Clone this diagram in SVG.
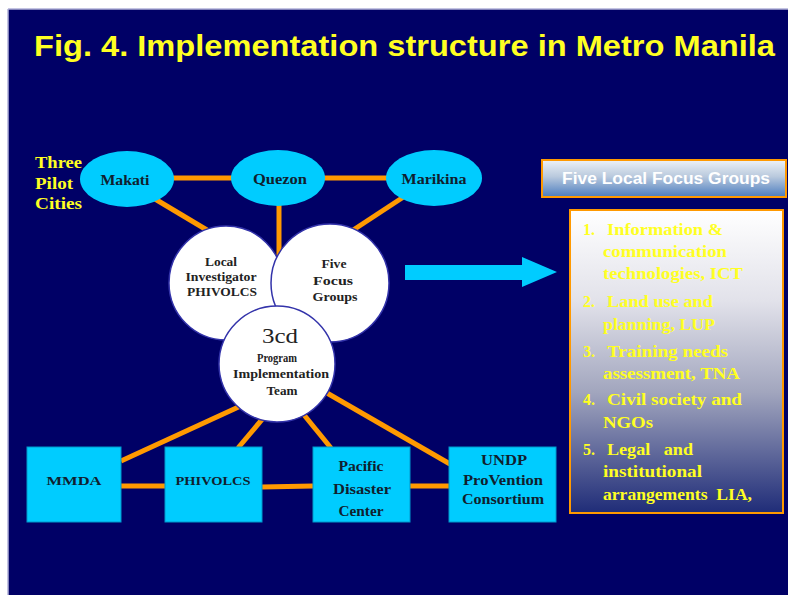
<svg xmlns="http://www.w3.org/2000/svg" width="788" height="595" viewBox="0 0 788 595">
<defs>
<linearGradient id="hdr" x1="0" y1="0" x2="0" y2="1">
<stop offset="0" stop-color="#EEF2F7"/>
<stop offset="0.45" stop-color="#B9C9DD"/>
<stop offset="1" stop-color="#4A7CBF"/>
</linearGradient>
<linearGradient id="lst" x1="0" y1="0" x2="0" y2="1">
<stop offset="0" stop-color="#FFFFFF"/>
<stop offset="0.3" stop-color="#E2E2EA"/>
<stop offset="0.6" stop-color="#A2A6BE"/>
<stop offset="1" stop-color="#1F2C78"/>
</linearGradient>
</defs>
<style>
.conn { stroke: #FF9900; stroke-width: 5; fill: none; }
.city { fill: #00CCFF; }
.box { fill: #00CCFF; stroke: #0099CC; stroke-width: 1; }
.circ { fill: #FFFFFF; stroke: #3333AA; stroke-width: 1.5; }
.dark { font-family: "Liberation Serif", serif; font-weight: bold; fill: #10202E; text-anchor: middle; }
.ctext { font-family: "Liberation Serif", serif; font-weight: bold; fill: #222222; text-anchor: middle; font-size: 12px; }
.yel { font-family: "Liberation Serif", serif; font-weight: bold; fill: #FFFF22; font-size: 16px; }
</style>
<rect x="0" y="0" width="788" height="595" fill="#FFFFFF"/>
<rect x="8" y="9" width="780" height="586" fill="#000066"/>
<line x1="8" y1="9" x2="788" y2="9" stroke="#B0B0D8" stroke-width="1.5"/>
<line x1="8" y1="9" x2="8" y2="595" stroke="#B0B0D8" stroke-width="1.5"/>

<text x="34" y="56" font-family="Liberation Sans, sans-serif" font-weight="bold" font-size="30" fill="#FFFF22" textLength="741" lengthAdjust="spacingAndGlyphs">Fig. 4. Implementation structure in Metro Manila</text>

<g id="pilot-label" class="yel" font-size="17">
<text x="35" y="168" font-size="17" textLength="47" lengthAdjust="spacingAndGlyphs">Three</text>
<text x="35" y="189" font-size="17" textLength="38" lengthAdjust="spacingAndGlyphs">Pilot</text>
<text x="35" y="209" font-size="17" textLength="47" lengthAdjust="spacingAndGlyphs">Cities</text>
</g>

<g id="connectors">
<line class="conn" x1="127" y1="178" x2="278" y2="178"/>
<line class="conn" x1="278" y1="178" x2="434" y2="178"/>
<line class="conn" x1="155" y1="199" x2="232" y2="245"/>
<line class="conn" x1="279" y1="200" x2="279" y2="262"/>
<line class="conn" x1="405" y1="196" x2="338" y2="240"/>
<line class="conn" x1="121" y1="461" x2="245" y2="404"/>
<line class="conn" x1="238" y1="448" x2="270" y2="410"/>
<line class="conn" x1="331" y1="448" x2="300" y2="410"/>
<line class="conn" x1="450" y1="464" x2="320" y2="389"/>
<line class="conn" x1="121" y1="486" x2="165" y2="486"/>
<line class="conn" x1="262" y1="487" x2="313" y2="486"/>
<line class="conn" x1="410" y1="486" x2="449" y2="486"/>
</g>

<g id="makati">
<ellipse class="city" cx="127" cy="179" rx="47" ry="28"/>
<text class="dark" x="125" y="185" font-size="14" textLength="49" lengthAdjust="spacingAndGlyphs">Makati</text>
</g>
<g id="quezon">
<ellipse class="city" cx="278" cy="178" rx="47" ry="28"/>
<text class="dark" x="280" y="184" font-size="14" textLength="54" lengthAdjust="spacingAndGlyphs">Quezon</text>
</g>
<g id="marikina">
<ellipse class="city" cx="434" cy="178" rx="48" ry="28"/>
<text class="dark" x="434" y="184" font-size="14" textLength="65" lengthAdjust="spacingAndGlyphs">Marikina</text>
</g>

<g id="local-investigator">
<circle class="circ" cx="226" cy="283" r="57"/>
<text class="ctext" x="221" y="266" textLength="32" lengthAdjust="spacingAndGlyphs">Local</text>
<text class="ctext" x="221" y="281" textLength="71" lengthAdjust="spacingAndGlyphs">Investigator</text>
<text class="ctext" x="222" y="296" textLength="70" lengthAdjust="spacingAndGlyphs">PHIVOLCS</text>
</g>
<g id="five-focus-groups">
<circle class="circ" cx="330" cy="283" r="59"/>
<text class="ctext" x="334" y="268" textLength="25" lengthAdjust="spacingAndGlyphs">Five</text>
<text class="ctext" x="333" y="285" textLength="40" lengthAdjust="spacingAndGlyphs">Focus</text>
<text class="ctext" x="335" y="301" textLength="45" lengthAdjust="spacingAndGlyphs">Groups</text>
</g>
<g id="pit-3cd">
<circle class="circ" cx="277" cy="364" r="58"/>
<text x="280" y="343" font-family="Liberation Serif, serif" font-size="22" fill="#222222" text-anchor="middle" textLength="36" lengthAdjust="spacingAndGlyphs">3cd</text>
<text class="ctext" x="277" y="362" textLength="40" lengthAdjust="spacingAndGlyphs">Program</text>
<text class="ctext" x="281" y="378" textLength="96" lengthAdjust="spacingAndGlyphs">Implementation</text>
<text class="ctext" x="282" y="395" textLength="31" lengthAdjust="spacingAndGlyphs">Team</text>
</g>

<g id="mmda">
<rect class="box" x="27" y="447" width="94" height="75"/>
<text class="dark" x="74" y="485" font-size="13" textLength="55" lengthAdjust="spacingAndGlyphs">MMDA</text>
</g>
<g id="phivolcs">
<rect class="box" x="165" y="447" width="97" height="75"/>
<text class="dark" x="213" y="485" font-size="13" textLength="75" lengthAdjust="spacingAndGlyphs">PHIVOLCS</text>
</g>
<g id="pdc">
<rect class="box" x="313" y="447" width="97" height="75"/>
<text class="dark" x="361" y="471" font-size="14" textLength="45" lengthAdjust="spacingAndGlyphs">Pacific</text>
<text class="dark" x="362" y="494" font-size="14" textLength="58" lengthAdjust="spacingAndGlyphs">Disaster</text>
<text class="dark" x="361" y="516" font-size="14" textLength="45" lengthAdjust="spacingAndGlyphs">Center</text>
</g>
<g id="undp">
<rect class="box" x="449" y="447" width="107" height="75"/>
<text class="dark" x="504" y="465" font-size="14" textLength="46" lengthAdjust="spacingAndGlyphs">UNDP</text>
<text class="dark" x="503" y="485" font-size="14" textLength="80" lengthAdjust="spacingAndGlyphs">ProVention</text>
<text class="dark" x="503" y="504" font-size="14" textLength="82" lengthAdjust="spacingAndGlyphs">Consortium</text>
</g>

<g id="arrow">
<polygon points="405,265 522,265 522,257 557,272 522,287 522,280 405,280" fill="#00CCFF"/>
</g>

<g id="focus-header">
<rect x="542" y="160" width="244" height="37" fill="url(#hdr)" stroke="#FF9900" stroke-width="2"/>
<text x="666" y="184" font-family="Liberation Sans, sans-serif" font-weight="bold" font-size="16" fill="#FFFFFF" text-anchor="middle" textLength="208" lengthAdjust="spacingAndGlyphs">Five Local Focus Groups</text>
</g>

<g id="focus-list">
<rect x="570" y="210" width="213" height="303" fill="url(#lst)" stroke="#FF9900" stroke-width="2"/>
<text class="yel"><tspan x="583" y="235">1.</tspan><tspan x="607" y="235" textLength="116" lengthAdjust="spacingAndGlyphs">Information &amp;</tspan></text>
<text class="yel" x="603" y="257" textLength="124" lengthAdjust="spacingAndGlyphs">communication</text>
<text class="yel" x="603" y="279" textLength="140" lengthAdjust="spacingAndGlyphs">technologies, ICT</text>
<text class="yel"><tspan x="583" y="307">2.</tspan><tspan x="607" y="307" textLength="106" lengthAdjust="spacingAndGlyphs">Land use and</tspan></text>
<text class="yel" x="603" y="330" textLength="112" lengthAdjust="spacingAndGlyphs">planning, LUP</text>
<text class="yel"><tspan x="583" y="357">3.</tspan><tspan x="607" y="357" textLength="121" lengthAdjust="spacingAndGlyphs">Training needs</tspan></text>
<text class="yel" x="603" y="379" textLength="137" lengthAdjust="spacingAndGlyphs">assessment, TNA</text>
<text class="yel"><tspan x="583" y="405">4.</tspan><tspan x="607" y="405" textLength="135" lengthAdjust="spacingAndGlyphs">Civil society and</tspan></text>
<text class="yel" x="603" y="428" textLength="50" lengthAdjust="spacingAndGlyphs">NGOs</text>
<text class="yel"><tspan x="583" y="455">5.</tspan><tspan x="607" y="455" textLength="86" lengthAdjust="spacingAndGlyphs" xml:space="preserve">Legal   and</tspan></text>
<text class="yel" x="603" y="477" textLength="99" lengthAdjust="spacingAndGlyphs">institutional</text>
<text class="yel" x="603" y="500" textLength="149" lengthAdjust="spacingAndGlyphs" xml:space="preserve">arrangements  LIA,</text>
</g>
</svg>
